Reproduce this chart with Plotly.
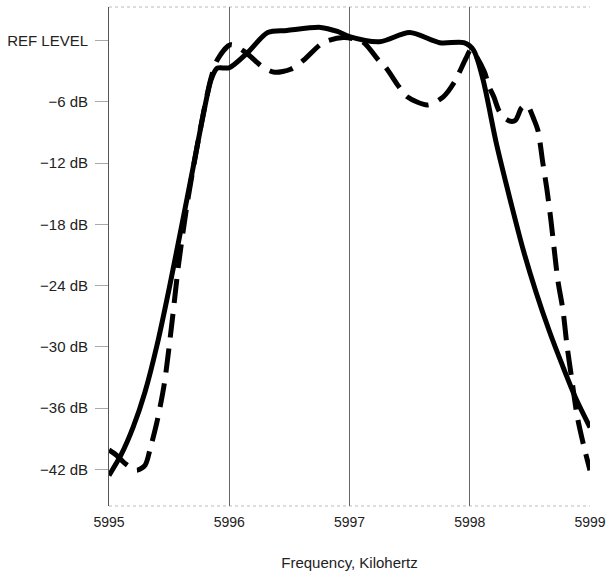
import plotly.graph_objects as go

# Solid response curve (frequency in kHz, level in dB relative to reference)
freq_solid = [5995.0, 5995.1, 5995.2, 5995.3, 5995.4, 5995.5, 5995.6, 5995.7,
              5995.78, 5995.85, 5995.9, 5996.0, 5996.15, 5996.32, 5996.48, 5996.76,
              5996.9, 5997.0, 5997.25, 5997.5, 5997.75, 5997.95, 5998.03, 5998.11,
              5998.22, 5998.33, 5998.44, 5998.55, 5998.66, 5998.77, 5998.88, 5999.0]
db_solid = [-42.6, -40.6, -37.9, -34.4, -29.8, -24.3, -18.4, -12.4,
            -7.5, -3.8, -2.7, -2.65, -1.2, 0.8, 1.0, 1.3,
            0.9, 0.4, -0.1, 0.8, -0.2, -0.2, -0.9, -3.8,
            -10.0, -15.3, -20.3, -24.6, -28.4, -31.8, -35.0, -37.9]

# Dashed response curve
freq_dashed = [5995.0, 5995.06, 5995.13, 5995.23, 5995.3, 5995.34, 5995.4, 5995.46,
               5995.52, 5995.58, 5995.65, 5995.72, 5995.79, 5995.85, 5995.9, 5996.01,
               5996.13, 5996.28, 5996.38, 5996.51, 5996.62, 5996.78, 5996.95, 5997.11,
               5997.24, 5997.3, 5997.41, 5997.48, 5997.65, 5997.78, 5997.87, 5997.97,
               5998.01, 5998.12, 5998.16, 5998.2, 5998.24, 5998.28, 5998.34, 5998.38,
               5998.43, 5998.47, 5998.49, 5998.53, 5998.567, 5998.608, 5998.642, 5998.675,
               5998.7, 5998.733, 5998.775, 5998.808, 5998.85, 5998.892, 5998.95, 5999.0]
db_dashed = [-40.1, -40.6, -41.4, -42.1, -41.6, -40.1, -37.3, -33.6,
             -28.0, -21.8, -16.0, -11.2, -6.8, -3.6, -1.9, -0.4,
             -1.1, -2.6, -3.1, -2.8, -1.9, -0.2, 0.3, -0.1,
             -1.9, -2.6, -4.5, -5.5, -6.3, -5.5, -4.1, -1.7,
             -0.9, -3.0, -4.5, -5.5, -6.8, -7.5, -7.9, -7.8,
             -6.6, -6.3, -6.5, -7.6, -8.8, -12.0, -14.6, -17.6,
             -20.2, -23.5, -26.4, -29.8, -33.3, -36.7, -39.8, -42.1]

x_ticks = [5995, 5996, 5997, 5998, 5999]
x_tick_labels = ["5995", "5996", "5997", "5998", "5999"]
y_ticks = [0, -6, -12, -18, -24, -30, -36, -42]
y_tick_labels = ["REF LEVEL", "\u22126 dB", "\u221212 dB", "\u221218 dB",
                 "\u221224 dB", "\u221230 dB", "\u221236 dB", "\u221242 dB"]

FONT = "Liberation Sans"

fig = go.Figure()
fig.add_trace(go.Scatter(x=freq_solid, y=db_solid, mode="lines",
                         line=dict(color="black", width=5, shape="spline", smoothing=0.8),
                         showlegend=False, hoverinfo="skip"))
fig.add_trace(go.Scatter(x=freq_dashed, y=db_dashed, mode="lines",
                         line=dict(color="black", width=5, dash="24px,11px",
                                   shape="spline", smoothing=0.8),
                         showlegend=False, hoverinfo="skip"))

# faint dotted top and bottom frame
for yy in (1, 0):
    fig.add_shape(type="line", xref="paper", yref="paper", x0=0, x1=1, y0=yy, y1=yy,
                  line=dict(color="#bbbbbb", width=1, dash="dot"), layer="below")

fig.update_layout(
    width=609, height=577,
    margin=dict(l=109, r=19, t=7, b=71),
    paper_bgcolor="white", plot_bgcolor="white",
    font=dict(family=FONT, size=15, color="#222222"),
    xaxis=dict(range=[5995, 5999], tickmode="array", tickvals=x_ticks,
               ticktext=x_tick_labels, showgrid=True, gridcolor="#666666", gridwidth=1,
               zeroline=False, showline=False, ticks="", automargin=False,
               ticklabelstandoff=6, ticklabeloverflow="allow",
               tickfont=dict(family=FONT, size=14, color="#222222"),
               title=dict(text="Frequency, Kilohertz", standoff=28,
                          font=dict(family=FONT, size=15, color="#222222"))),
    yaxis=dict(range=[-45.6, 3.3], tickmode="array", tickvals=y_ticks,
               ticktext=y_tick_labels, showgrid=False, zeroline=False,
               showline=True, linecolor="#555555", linewidth=1, automargin=False,
               ticks="outside", ticklen=13, tickcolor="#aaaaaa", tickwidth=1,
               ticklabelstandoff=4),
)

# remove the default page margin so the 609x577 figure fills the window exactly
fig.write_html("out.html",
               config={"displayModeBar": False},
               post_script="document.body.style.margin='0';document.body.style.overflow='hidden';")
